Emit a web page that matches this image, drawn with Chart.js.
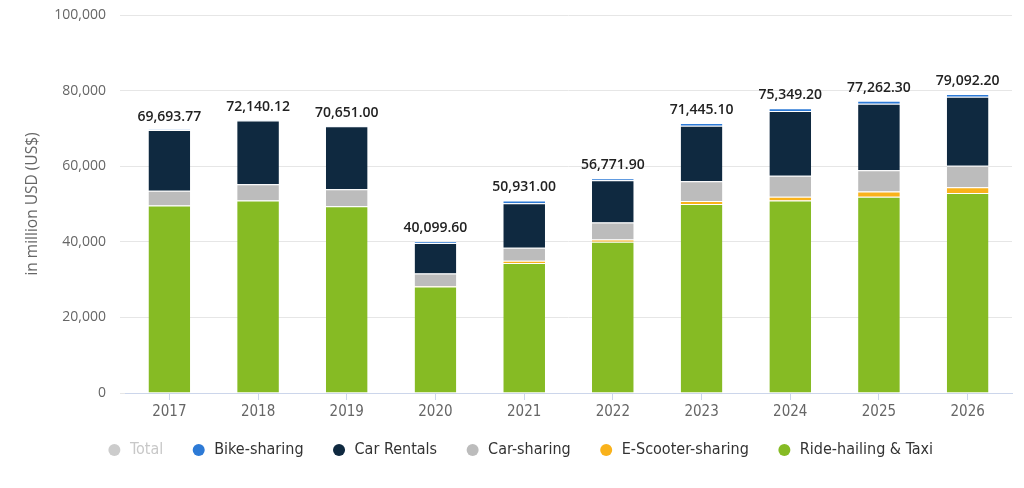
<!DOCTYPE html>
<html>
<head>
<meta charset="utf-8">
<script src="https://cdn.jsdelivr.net/npm/chart.js@4.4.1/dist/chart.umd.min.js"></script>
<style>
  html, body { margin: 0; padding: 0; background: #fff; }
  #wrap { width: 1024px; height: 488px; position: relative; }
</style>
</head>
<body>
<div id="wrap"><canvas id="chart"></canvas></div>
<script>
// Market revenue by segment, in million USD
const years = ['2017', '2018', '2019', '2020', '2021', '2022', '2023', '2024', '2025', '2026'];
const totals = [69693.77, 72140.12, 70651.00, 40099.60, 50931.00, 56771.90, 71445.10, 75349.20, 77262.30, 79092.20];
const rideHailing = [49600, 50900, 49400, 28200, 34400, 40000, 50000, 50900, 51900, 52900];
const eScooter = [0, 0, 0, 100, 600, 600, 800, 1000, 1400, 1500];
const carSharing = [3900, 4300, 4500, 3300, 3400, 4500, 5200, 5600, 5600, 5700];
const carRentals = [16100, 16900, 16700, 8100, 11800, 11200, 14700, 17100, 17600, 18300];
const bikeSharing = [100, 50, 50, 400, 700, 500, 700, 750, 800, 700];
const yTicks = [0, 20000, 40000, 60000, 80000, 100000];

const narrow = '"Liberation Sans Narrow", "DejaVu Sans Condensed", "Open Sans", sans-serif';

// total value above every stack
const totalLabels = {
  id: 'totalLabels',
  afterDatasetsDraw(chart) {
    const ctx = chart.ctx;
    const x = chart.scales.x;
    const y = chart.scales.y;
    ctx.save();
    ctx.font = '600 14px "Open Sans", sans-serif';
    ctx.fillStyle = '#222';
    ctx.textAlign = 'center';
    ctx.textBaseline = 'bottom';
    totals.forEach((t, i) => {
      const txt = t.toLocaleString('en-US', { minimumFractionDigits: 2, maximumFractionDigits: 2 });
      ctx.fillText(txt, x.getPixelForValue(i), y.getPixelForValue(t) - 6);
    });
    ctx.restore();
  }
};

// nudge the legend row right; let the year labels overhang the short x box
const layoutTweaks = {
  id: 'layoutTweaks',
  afterLayout(chart) {
    chart.legend.left += 14;
    chart.legend.right += 14;
    chart.scales.x.bottom += 14;
  }
};

const seg = (label, data, color) => ({
  label: label,
  data: data,
  backgroundColor: color,
  borderColor: '#ffffff',
  borderWidth: { top: 1, left: 0, right: 0, bottom: 0 },
  borderSkipped: false,
  stack: 's',
  barPercentage: 0.94,
  categoryPercentage: 0.5
});

const datasets = [
  seg('Ride-hailing & Taxi', rideHailing, '#86bb24'),
  seg('E-Scooter-sharing', eScooter, '#f9b21b'),
  seg('Car-sharing', carSharing, '#bcbcbc'),
  seg('Car Rentals', carRentals, '#0f2940'),
  seg('Bike-sharing', bikeSharing, '#2d7ad6'),
  Object.assign(seg('Total', totals, '#cccccc'), { hidden: true })
];

new Chart(document.getElementById('chart'), {
  type: 'bar',
  data: { labels: years, datasets: datasets },
  plugins: [totalLabels, layoutTweaks],
  options: {
    responsive: true,
    maintainAspectRatio: false,
    animation: false,
    layout: { padding: { left: 0, right: 12, top: 15, bottom: 20 } },
    plugins: {
      tooltip: { enabled: false },
      legend: {
        position: 'bottom',
        reverse: true,
        labels: {
          usePointStyle: true,
          pointStyle: 'circle',
          boxWidth: 15,
          boxHeight: 8.5,
          padding: 28,
          color: '#333',
          font: { family: narrow, size: 16 },
          generateLabels: function(chart) {
            const items = Chart.defaults.plugins.legend.labels.generateLabels(chart);
            items.forEach(it => {
              it.lineWidth = 0;
              it.strokeStyle = it.fillStyle;
              if (it.text === 'Total') {
                it.hidden = false;
                it.fontColor = '#c8c8c8';
              }
            });
            return items;
          }
        }
      }
    },
    scales: {
      x: {
        stacked: true,
        afterFit: s => { s.height = 21; },
        border: { display: true, color: '#ccd6eb', width: 1 },
        grid: { display: true, drawOnChartArea: false, offset: false, tickLength: 7, color: '#ccd6eb' },
        ticks: { color: '#666', padding: 3, font: { family: narrow, size: 15 } }
      },
      y: {
        stacked: true,
        min: 0,
        max: 100000,
        afterFit: s => { s.width = 125; s.paddingTop = 0; s.paddingBottom = 0; },
        afterBuildTicks: s => { s.ticks = yTicks.map(v => ({ value: v })); },
        border: { display: false },
        grid: { color: '#e6e6e6', tickLength: 5 },
        ticks: {
          color: '#666',
          padding: 14,
          font: { family: '"Open Sans", sans-serif', size: 14 },
          callback: v => v.toLocaleString('en-US')
        },
        title: {
          display: true,
          text: 'in million USD (US$)',
          color: '#666',
          padding: { top: 23, bottom: 0 },
          font: { family: '"Open Sans", sans-serif', size: 15.5 }
        }
      }
    }
  }
});
</script>
</body>
</html>
